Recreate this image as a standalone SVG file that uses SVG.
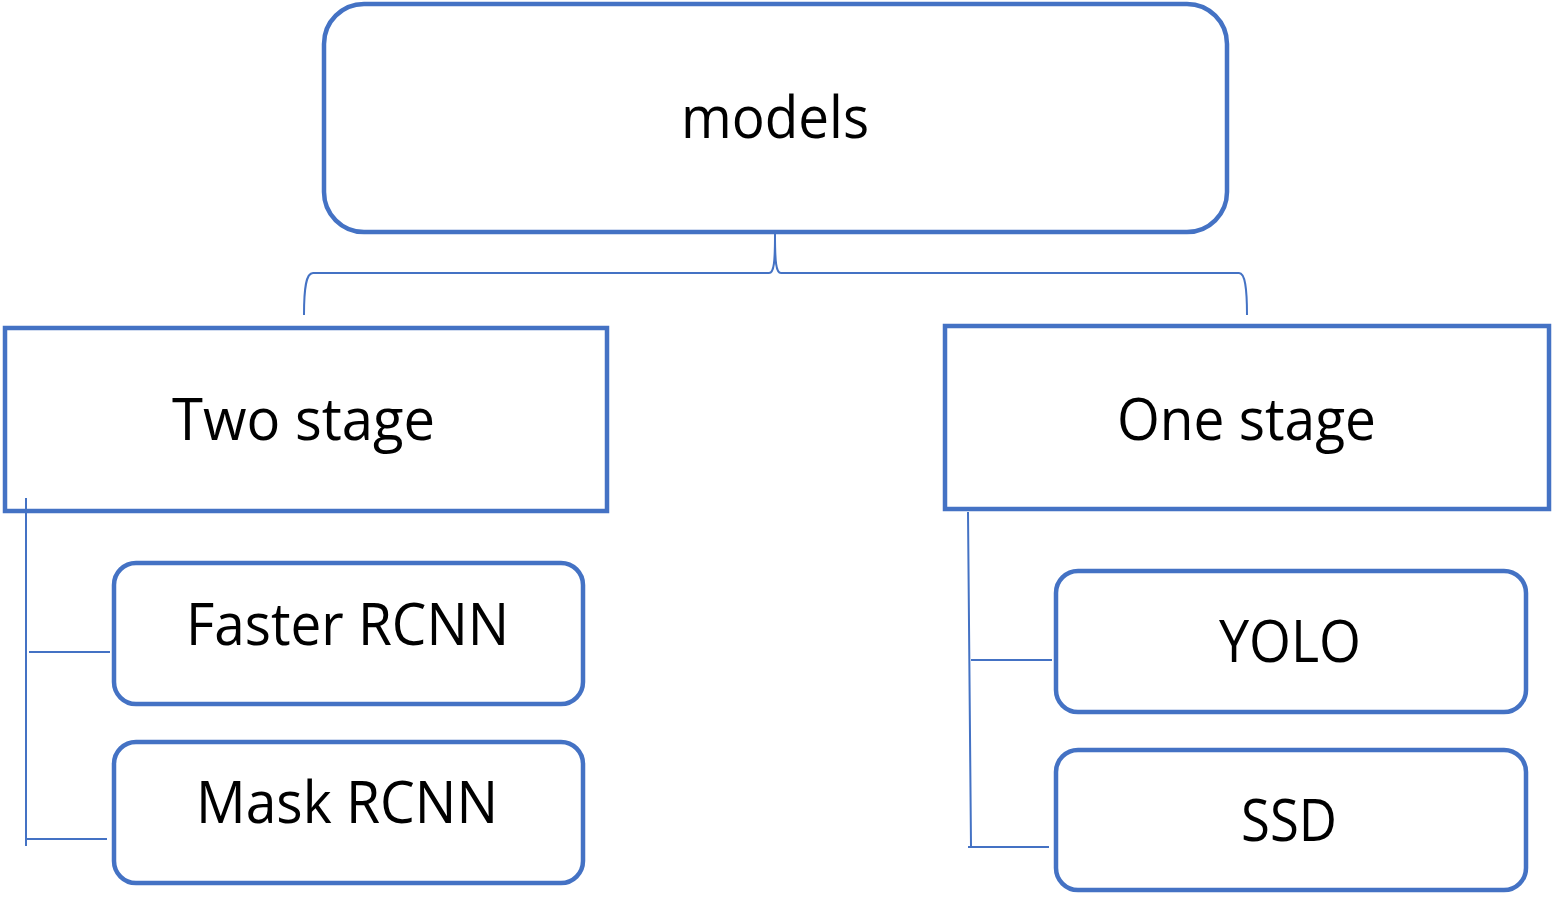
<svg xmlns="http://www.w3.org/2000/svg" width="1552" height="897" viewBox="0 0 1552 897">
<style>
.box{fill:#fff;stroke:#4472C4;stroke-width:4.5}
.con{fill:none;stroke:#4472C4;stroke-width:2}
.t{font-family:"Open Sans","Noto Sans",sans-serif;font-size:58px;fill:#000;text-anchor:middle}
</style>
<rect width="1552" height="897" fill="#fff"/>
<g id="models"><rect class="box" x="324" y="4" width="903" height="228" rx="40"/><text class="t" x="775" y="138" textLength="188" lengthAdjust="spacingAndGlyphs">models</text></g>
<g id="two-stage"><rect class="box" x="5" y="328" width="602" height="183"/><text class="t" x="303.5" y="440" textLength="263" lengthAdjust="spacingAndGlyphs">Two stage</text></g>
<g id="one-stage"><rect class="box" x="945" y="326" width="604" height="183"/><text class="t" x="1246.5" y="440" textLength="259" lengthAdjust="spacingAndGlyphs">One stage</text></g>
<g id="faster-rcnn"><rect class="box" x="114" y="563" width="469" height="141" rx="22"/><text class="t" x="347.5" y="645" textLength="323" lengthAdjust="spacingAndGlyphs">Faster RCNN</text></g>
<g id="mask-rcnn"><rect class="box" x="114" y="742" width="469" height="141" rx="22"/><text class="t" x="347" y="823" textLength="302" lengthAdjust="spacingAndGlyphs">Mask RCNN</text></g>
<g id="yolo"><rect class="box" x="1056" y="571" width="470" height="141" rx="22"/><text class="t" x="1290" y="662" textLength="142" lengthAdjust="spacingAndGlyphs">YOLO</text></g>
<g id="ssd"><rect class="box" x="1056" y="750" width="470" height="140" rx="22"/><text class="t" x="1289" y="841" textLength="96" lengthAdjust="spacingAndGlyphs">SSD</text></g>
<g id="connectors">
<path class="con" d="M304,315 C304,288 306,273 313,273 L769,273 C774,273 775,262 775,234 C775,262 776,273 781,273 L1239,273 C1245,273 1247,288 1247,315"/>
<path class="con" d="M26,498 L26,846 M26,839 L107,839 M29,652 L110,652"/>
<path class="con" d="M968,512 L971,846 M968,847 L1049,847 M971,660 L1052,660"/>
</g>
</svg>
